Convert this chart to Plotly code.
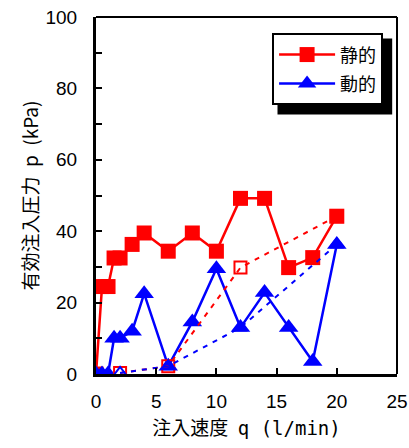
import plotly.graph_objects as go

# data
q_static = [0, 0.5, 1.0, 1.5, 2, 3, 4, 6, 8, 10, 12, 14, 16, 18, 20]
p_static = [0, 24.5, 24.5, 32.5, 32.5, 36.3, 39.5, 34.4, 39.5, 34.4, 49.2, 49.2, 29.8, 32.6, 44.2]

q_dynamic = [0, 0.5, 1.0, 1.5, 2, 3, 4, 6, 8, 10, 12, 14, 16, 18, 20]
p_dynamic = [0, 0, 0, 10, 10, 12, 22.5, 2.2, 14.6, 29.5, 13, 22.8, 13, 3.5, 36.3]

q_static_trend = [2, 6, 12, 20]
p_static_trend = [0.3, 2.2, 29.8, 44.2]

q_dynamic_trend = [2, 6, 12, 20]
p_dynamic_trend = [0.3, 2.2, 13, 36.3]

x_ticks = [0, 5, 10, 15, 20, 25]
y_ticks = [0, 10, 20, 30, 40, 50, 60, 70, 80, 90, 100]
y_ticklabels = ["0", "", "20", "", "40", "", "60", "", "80", "", "100"]

RED = "#ff0000"
BLUE = "#0000ff"

fig = go.Figure()
fig.add_trace(go.Scatter(x=q_static, y=p_static, mode="lines+markers",
                         name='<span style="font-size:18px">静的</span>',
                         line=dict(color=RED, width=2.5),
                         marker=dict(symbol="square", size=15, color=RED)))
fig.add_trace(go.Scatter(x=q_dynamic, y=p_dynamic, mode="lines+markers",
                         name='<span style="font-size:18px">動的</span>',
                         line=dict(color=BLUE, width=2.5),
                         marker=dict(symbol="triangle-up", size=17, color=BLUE)))
fig.add_trace(go.Scatter(x=q_static_trend, y=p_static_trend, mode="lines+markers",
                         showlegend=False,
                         line=dict(color=RED, width=2, dash="5px,6px"),
                         marker=dict(symbol="square-open", size=12, color=RED, line=dict(width=2))))
fig.add_trace(go.Scatter(x=q_dynamic_trend, y=p_dynamic_trend, mode="lines+markers",
                         showlegend=False,
                         line=dict(color=BLUE, width=2, dash="5px,6px"),
                         marker=dict(symbol="triangle-up-open", size=12, color=BLUE, line=dict(width=2))))

tick_font = dict(family="Liberation Sans, Arial, sans-serif", size=19, color="black")
title_font = dict(family="Noto Sans CJK JP", size=19, color="black")

fig.update_layout(
    width=409, height=448,
    margin=dict(l=96, r=12, t=17, b=74, autoexpand=False),
    paper_bgcolor="white", plot_bgcolor="white",
    xaxis=dict(range=[0, 25], tickvals=x_ticks, ticks="inside", ticklen=6,
               tickwidth=1.5, tickcolor="black", ticklabelstandoff=8, automargin=False,
               showgrid=False, zeroline=False, showline=True, linecolor="black", linewidth=3,
               tickfont=tick_font,
               title=dict(text='注入速度\u2002<span style="font-family:DejaVu Sans Mono">q\u2002(l/min)</span>',
                          font=title_font, standoff=11)),
    yaxis=dict(range=[0, 100], tickvals=y_ticks, ticktext=y_ticklabels,
               ticks="inside", ticklen=6, tickwidth=1.5, tickcolor="black",
               ticklabelstandoff=12, automargin=False,
               showgrid=False, zeroline=False, showline=True, linecolor="black", linewidth=3,
               tickfont=tick_font,
               title=dict(text="有効注入圧力\u2002p\u2002(kPa)", font=title_font, standoff=2)),
    legend=dict(x=0.585, y=0.955, xanchor="left", yanchor="top",
                bgcolor="white", bordercolor="black", borderwidth=2,
                font=dict(family="Noto Sans CJK JP", size=20, color="black"),
                itemwidth=56, tracegroupgap=0),
    showlegend=True,
)

# top and right frame lines
fig.add_shape(type="line", xref="paper", yref="paper", x0=0, x1=1, y0=1, y1=1,
              line=dict(color="black", width=2))
fig.add_shape(type="line", xref="paper", yref="paper", x0=1, x1=1, y0=0, y1=1,
              line=dict(color="black", width=2))
# legend shadow
fig.add_shape(type="rect", xref="paper", yref="paper",
              x0=0.603, x1=0.984, y0=0.727, y1=0.94,
              fillcolor="black", line=dict(width=0), layer="above")

fig.write_html("out.html", config={"displayModeBar": False},
               post_script="document.body.style.margin='0';")
